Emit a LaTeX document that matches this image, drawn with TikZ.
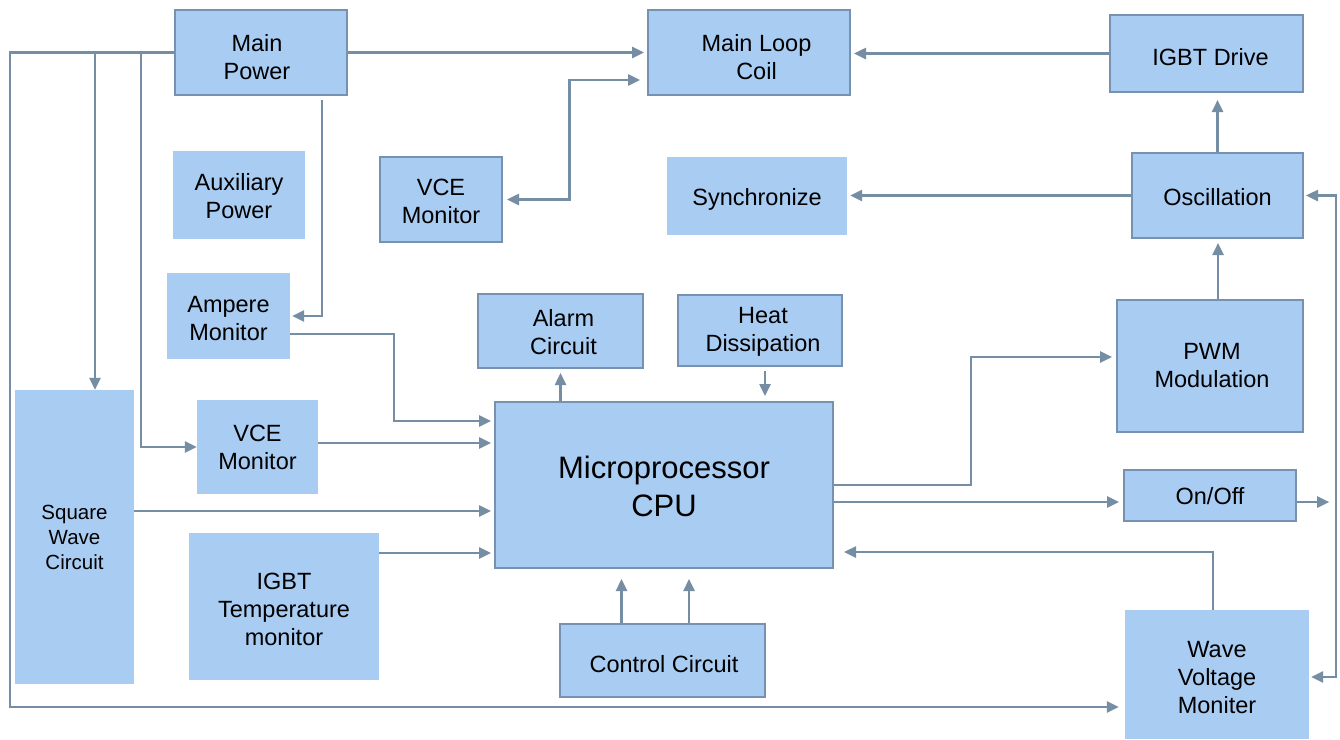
\documentclass[tikz,border=0pt]{standalone}
\usepackage{fontspec}
\setmainfont{Liberation Sans}
\usetikzlibrary{arrows.meta,calc}
\definecolor{boxfill}{RGB}{169,204,243}
\definecolor{boxline}{RGB}{118,146,176}
\definecolor{wirecol}{RGB}{118,142,164}
\begin{document}
\begin{tikzpicture}[x=1pt,y=-1pt,
  box/.style={fill=boxfill, inner sep=0pt},
  bbox/.style={box, draw=boxline, line width=2pt},
  txt/.style={align=center, text=black, inner sep=0pt, font=\fontsize{23.5}{28}\selectfont},
  wire/.style={draw=wirecol, line width=2.5pt},
  arr/.style={wire, -{Triangle[length=12pt,width=11pt]}},
  barr/.style={wire, {Triangle[length=12pt,width=11pt]}-{Triangle[length=12pt,width=11pt]}}
]
\fill[white] (0,0) rectangle (1340,739);
\useasboundingbox (0,0) rectangle (1340,739);

% boxes
\node[bbox, minimum width=172pt, minimum height=85pt,
  label={[txt, xshift=-4pt, yshift=-5pt]center:{Main\\Power}}] (mp) at (261,52.5) {};
\node[bbox, minimum width=202pt, minimum height=85pt,
  label={[txt, xshift=7.5pt, yshift=-5pt]center:{Main Loop\\Coil}}] (mlc) at (749,52.5) {};
\node[bbox, minimum width=193pt, minimum height=77pt,
  label={[txt, xshift=4pt, yshift=-4pt]center:{IGBT Drive}}] (igd) at (1206.5,53.5) {};
\node[box, minimum width=132pt, minimum height=88pt,
  label={[txt, yshift=-1.5pt]center:{Auxiliary\\Power}}] (aux) at (239,195) {};
\node[bbox, minimum width=122pt, minimum height=85pt,
  label={[txt, yshift=-2pt]center:{VCE\\Monitor}}] (vce1) at (441,199.5) {};
\node[box, minimum width=180pt, minimum height=78pt,
  label={[txt, yshift=-3pt]center:{Synchronize}}] (syn) at (757,196) {};
\node[bbox, minimum width=171pt, minimum height=85pt,
  label={[txt, yshift=-2pt]center:{Oscillation}}] (osc) at (1217.5,195.5) {};
\node[box, minimum width=123pt, minimum height=86pt,
  label={[txt, yshift=-2.5pt]center:{Ampere\\Monitor}}] (amp) at (228.5,316) {};
\node[bbox, minimum width=165pt, minimum height=74pt,
  label={[txt, xshift=3pt, yshift=-1.5pt]center:{Alarm\\Circuit}}] (alarm) at (560.5,331) {};
\node[bbox, minimum width=164pt, minimum height=71pt,
  label={[txt, xshift=3pt, yshift=-1pt]center:{Heat\\Dissipation}}] (heat) at (760,330.5) {};
\node[bbox, minimum width=186pt, minimum height=132pt,
  label={[txt, xshift=2pt]center:{PWM\\Modulation}}] (pwm) at (1210,366) {};
\node[box, minimum width=119pt, minimum height=294pt,
  label={[txt, font=\fontsize{20.5}{25}\selectfont]center:{Square\\Wave\\Circuit}}] (sq) at (74.5,537) {};
\node[box, minimum width=121pt, minimum height=94pt,
  label={[txt]center:{VCE\\Monitor}}] (vce2) at (257.5,447) {};
\node[bbox, minimum width=338pt, minimum height=166pt,
  label={[txt, yshift=-1pt, font=\fontsize{31}{38}\selectfont]center:{Microprocessor\\CPU}}] (cpu) at (664,485) {};
\node[bbox, minimum width=172pt, minimum height=51pt,
  label={[txt, yshift=-1pt]center:{On/Off}}] (onoff) at (1210,495.5) {};
\node[box, minimum width=190pt, minimum height=147pt,
  label={[txt, yshift=-2.5pt]center:{IGBT\\Temperature\\monitor}}] (igt) at (284,606.5) {};
\node[bbox, minimum width=205pt, minimum height=73pt,
  label={[txt, xshift=1.5pt, yshift=-4pt]center:{Control Circuit}}] (ctrl) at (662.5,660.5) {};
\node[box, minimum width=184pt, minimum height=129pt,
  label={[txt, yshift=-3pt]center:{Wave\\Voltage\\Moniter}}] (wvm) at (1217,674.5) {};

% helper coordinates
\coordinate (j1) at (95,52.5);
\coordinate (j2) at (141,52.5);
\coordinate (cpuIn1) at ([yshift=64pt]cpu.west);
\coordinate (cpuIn2) at ([yshift=42pt]cpu.west);
\coordinate (cpuIn3) at ([yshift=-26pt]cpu.west);
\coordinate (cpuIn4) at ([yshift=-68pt]cpu.west);
\coordinate (cpuOut2) at ([yshift=-17pt]cpu.east);
\coordinate (pwmIn) at ([yshift=9pt]pwm.west);
\coordinate (rb) at ($(wvm.east)+(27,2.5)$);

% connectors
\draw[arr, shorten >=3pt] (mp.east) -- (mlc.west);
\draw[arr, shorten >=6pt] (mp.west) -| ($(wvm.west)+(-1115,32.5)$) -- ($(wvm.west)+(0,32.5)$);
\draw[arr] (j1) -- (j1 |- sq.north);
\draw[arr] (j2) |- (vce2.west);
\draw[arr, shorten >=2pt, shorten <=4pt] ([xshift=61pt]mp.south) |- (amp.east);
\draw[arr, shorten >=3pt] ([yshift=-18pt]amp.east) -| ($(cpuIn1)+(-100,0)$) -- (cpuIn1);
\draw[arr, shorten >=3pt] (vce2.east |- cpuIn2) -- (cpuIn2);
\draw[arr, shorten >=3pt] (sq.east |- cpuIn3) -- (cpuIn3);
\draw[arr, shorten >=3pt] (igt.east |- cpuIn4) -- (cpuIn4);
\draw[arr, shorten >=4pt] (cpu.north -| alarm.south) -- (alarm.south);
\draw[arr, shorten >=5pt, shorten <=4pt] ([xshift=5pt]heat.south) -- ([xshift=5pt]heat.south |- cpu.north);
\draw[arr, shorten >=10pt] ([xshift=-41pt]ctrl.north) -- ([xshift=-41pt]ctrl.north |- cpu.south);
\draw[arr, shorten >=10pt] ([xshift=26.5pt]ctrl.north) -- ([xshift=26.5pt]ctrl.north |- cpu.south);
\draw[arr, shorten >=4pt] (cpu.east) -| ($(pwmIn)+(-145,0)$) -- (pwmIn);
\draw[arr, shorten >=4pt] (cpuOut2) -- (cpuOut2 -| onoff.west);
\draw[barr, shorten <=2pt, shorten >=2pt] (osc.east) -| (rb) -- (rb -| wvm.east);
\draw[arr, shorten >=7pt] (onoff.east |- cpuOut2) -- (cpuOut2 -| rb);
\draw[arr, shorten >=10pt] ([xshift=-4pt]wvm.north) |- ([yshift=-67pt]cpu.east);
\draw[arr, shorten >=3pt] (osc.west) -- (osc.west -| syn.east);
\draw[arr, shorten >=7pt] (osc.north) -- (osc.north |- igd.south);
\draw[arr, shorten >=4pt] ([xshift=8pt]pwm.north) -- ([xshift=8pt]pwm.north |- osc.south);
\draw[arr, shorten >=3pt] (igd.west) -- (igd.west -| mlc.east);
\draw[barr, shorten <=4pt, shorten >=7pt] (vce1.east) -| ($(mlc.west)+(-77.5,27.5)$) -- ($(mlc.west)+(0,27.5)$);
\end{tikzpicture}
\end{document}
